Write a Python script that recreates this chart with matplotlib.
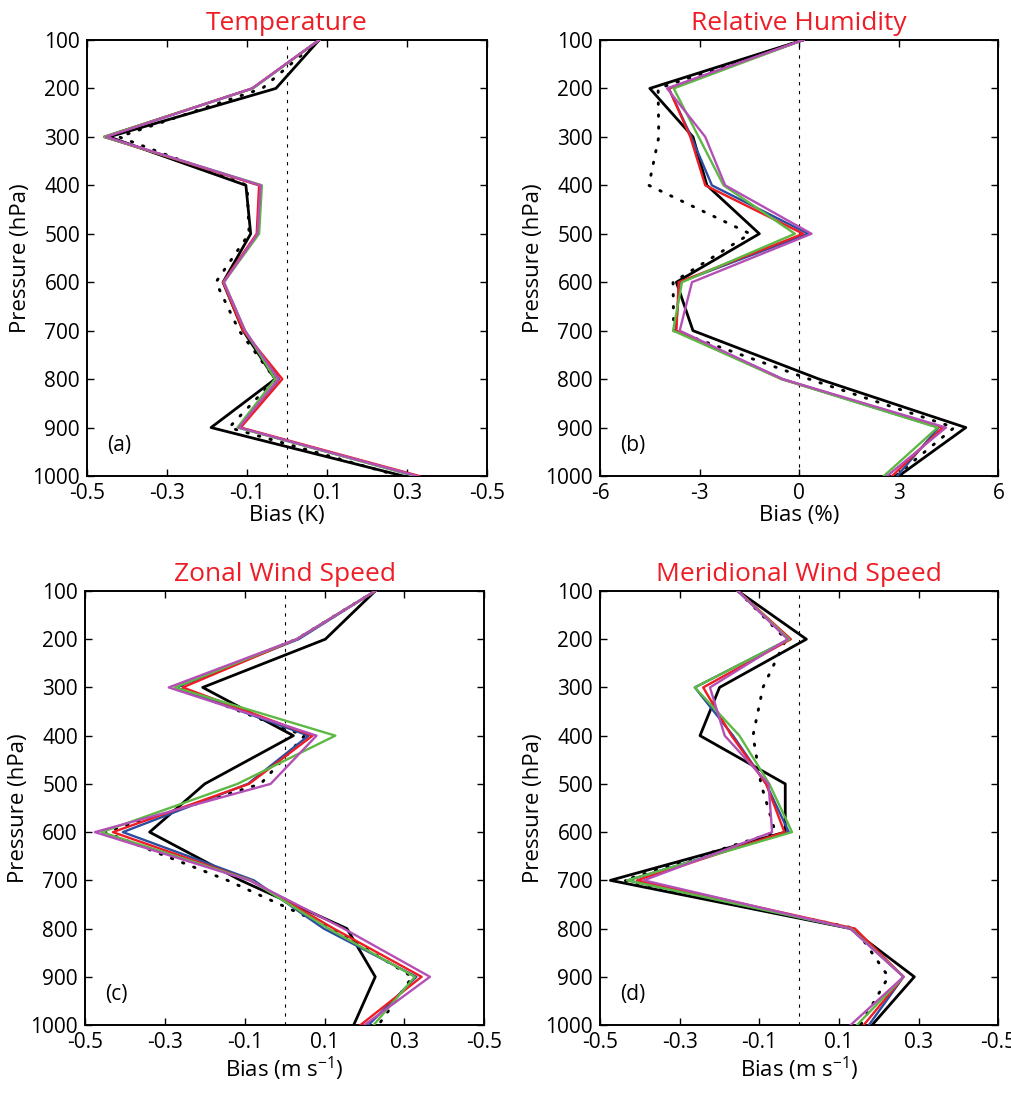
import matplotlib
matplotlib.use('Agg')
import matplotlib.pyplot as plt
import numpy as np

plt.rcParams['font.family'] = ['Open Sans', 'DejaVu Sans']

levels = [100, 200, 300, 400, 500, 600, 700, 800, 900, 1000]

# (a) Temperature bias (K)
t_black = [0.08, -0.028, -0.445, -0.103, -0.091, -0.16, -0.11, -0.03, -0.19, 0.29]
t_dot   = [0.08, -0.062, -0.42, -0.10, -0.095, -0.178, -0.12, -0.03, -0.145, 0.28]
t_blue  = [0.08, -0.087, -0.457, -0.068, -0.072, -0.16, -0.108, -0.02, -0.12, 0.32]
t_red   = [0.08, -0.087, -0.457, -0.070, -0.076, -0.16, -0.110, -0.012, -0.116, 0.33]
t_green = [0.08, -0.085, -0.457, -0.063, -0.070, -0.158, -0.105, -0.03, -0.124, 0.32]
t_mag   = [0.08, -0.087, -0.452, -0.066, -0.074, -0.158, -0.105, -0.022, -0.12, 0.325]

# (b) Relative humidity bias (%)
rh_black = [0.12, -4.5, -3.2, -2.78, -1.2, -3.7, -3.2, 0.6, 5.02, 3.0]
rh_dot   = [0.12, -4.25, -4.23, -4.53, -1.48, -3.8, -3.78, 0.3, 4.67, 2.9]
rh_blue  = [0.12, -3.93, -3.25, -2.63, 0.27, -3.6, -3.72, -0.5, 4.2, 2.95]
rh_red   = [0.12, -3.93, -3.28, -2.83, 0.12, -3.63, -3.70, -0.53, 4.32, 2.8]
rh_green = [0.12, -3.78, -3.03, -2.28, -0.13, -3.53, -3.80, -0.53, 4.17, 2.55]
rh_mag   = [0.12, -3.98, -2.83, -2.23, 0.37, -3.23, -3.60, -0.5, 4.42, 2.65]

# (c) Zonal wind bias (m/s)
u_black = [0.227, 0.102, -0.205, 0.022, -0.20, -0.338, -0.11, 0.156, 0.227, 0.173]
u_dot   = [0.227, 0.03, -0.27, 0.05, -0.06, -0.45, -0.143, 0.12, 0.32, 0.235]
u_blue  = [0.227, 0.035, -0.272, 0.06, -0.092, -0.405, -0.077, 0.098, 0.33, 0.21]
u_red   = [0.227, 0.03, -0.255, 0.07, -0.089, -0.43, -0.085, 0.123, 0.343, 0.19]
u_green = [0.227, 0.03, -0.275, 0.127, -0.118, -0.458, -0.085, 0.11, 0.326, 0.223]
u_mag   = [0.227, 0.03, -0.29, 0.08, -0.035, -0.475, -0.088, 0.148, 0.364, 0.20]

# (d) Meridional wind bias (m/s)
v_black = [-0.154, 0.018, -0.20, -0.249, -0.035, -0.035, -0.474, 0.129, 0.289, 0.183]
v_dot   = [-0.154, -0.033, -0.091, -0.116, -0.096, -0.06, -0.44, 0.141, 0.224, 0.154]
v_blue  = [-0.154, -0.025, -0.262, -0.166, -0.083, -0.026, -0.43, 0.13, 0.262, 0.175]
v_red   = [-0.154, -0.021, -0.241, -0.170, -0.083, -0.037, -0.407, 0.14, 0.262, 0.162]
v_green = [-0.154, -0.025, -0.262, -0.150, -0.075, -0.018, -0.432, 0.13, 0.262, 0.145]
v_mag   = [-0.154, -0.029, -0.224, -0.187, -0.077, -0.068, -0.39, 0.128, 0.262, 0.129]

titles = ['Temperature', 'Relative Humidity', 'Zonal Wind Speed', 'Meridional Wind Speed']
xlabels = ['Bias (K)', 'Bias (%)', 'Bias (m s$^{\\mathregular{-1}}$)', 'Bias (m s$^{\\mathregular{-1}}$)']
tags = ['(a)', '(b)', '(c)', '(d)']
wind_ticks = [-0.5, -0.3, -0.1, 0.1, 0.3, 0.5]
wind_ticklabels = ['-0.5', '-0.3', '-0.1', '0.1', '0.3', '-0.5']
rh_ticks = [-6, -3, 0, 3, 6]
rh_ticklabels = ['-6', '-3', '0', '3', '6']

panels = [
    (t_black, t_dot, t_blue, t_red, t_green, t_mag),
    (rh_black, rh_dot, rh_blue, rh_red, rh_green, rh_mag),
    (u_black, u_dot, u_blue, u_red, u_green, u_mag),
    (v_black, v_dot, v_blue, v_red, v_green, v_mag),
]
colors = ['#2b4ea2', '#ee1c25', '#5db944', '#b44fb5']

# axes boxes in figure fractions [left, bottom, width, height]
boxes = [
    [0.086, 0.5653, 0.396, 0.3982],
    [0.5935, 0.5653, 0.394, 0.3982],
    [0.084, 0.0639, 0.395, 0.3964],
    [0.5935, 0.0639, 0.394, 0.3964],
]

fig = plt.figure(figsize=(10.11, 10.95), dpi=100)

for i in range(4):
    ax = fig.add_axes(boxes[i])
    blk, dot, *cols = panels[i]
    ax.axvline(0, color='k', lw=0.8, ls=(0, (3, 5)), zorder=1)
    ax.plot(blk, levels, color='k', lw=2.0, zorder=2)
    ax.plot(dot, levels, color='k', lw=2.1, ls=(0, (0.5, 3.6)),
            dash_capstyle='round', zorder=3)
    for c, s in zip(colors, cols):
        ax.plot(s, levels, color=c, lw=1.7, zorder=4)
    if i == 1:
        ax.set_xlim(-6, 6)
        ax.set_xticks(rh_ticks)
        ax.set_xticklabels(rh_ticklabels)
    else:
        ax.set_xlim(-0.5, 0.5)
        ax.set_xticks(wind_ticks)
        ax.set_xticklabels(wind_ticklabels)
    ax.set_ylim(1000, 100)
    ax.set_yticks(levels)
    ax.tick_params(direction='in', top=True, right=True, labelsize=15,
                   length=5, width=1, pad=5)
    for sp in ax.spines.values():
        sp.set_linewidth(1.4)
    ax.set_title(titles[i], color='#ee1c25', fontsize=19, pad=7)
    ax.set_xlabel(xlabels[i], fontsize=16, labelpad=1)
    ax.set_ylabel('Pressure (hPa)', fontsize=16, labelpad=1)
    ax.text(0.05, 0.07, tags[i], transform=ax.transAxes, fontsize=15, va='center')

plt.savefig('out.png', dpi=100)
plt.close()
